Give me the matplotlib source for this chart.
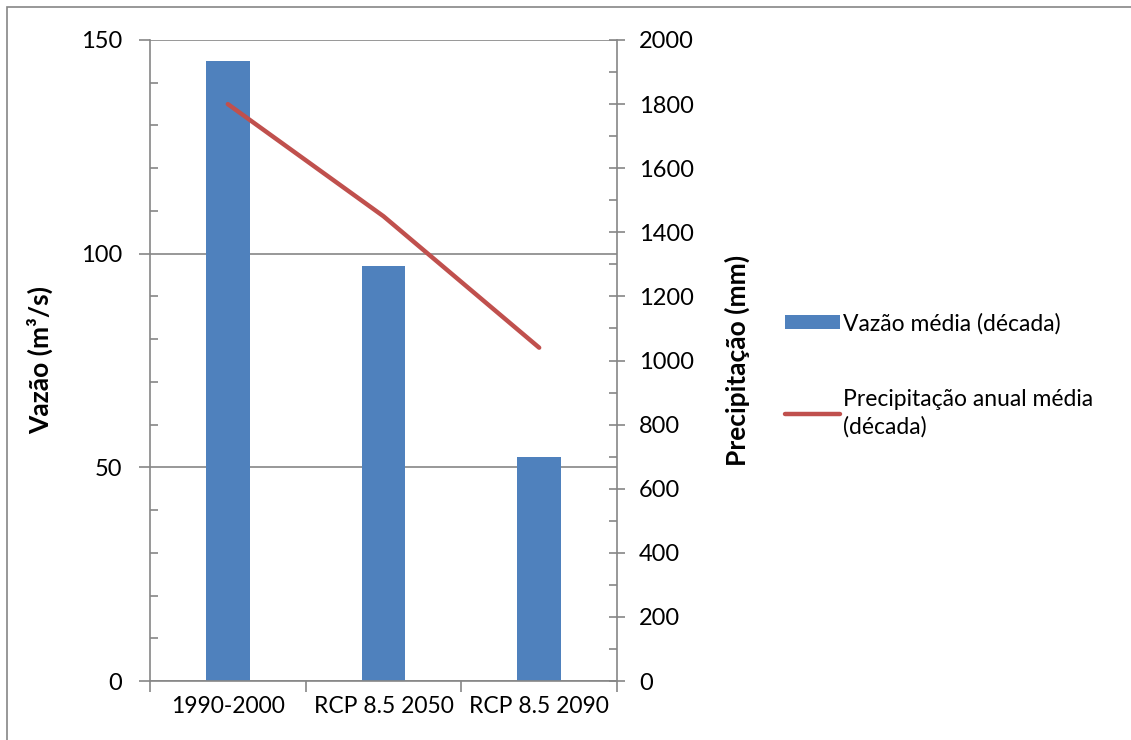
import matplotlib
matplotlib.use('Agg')
import matplotlib.pyplot as plt
from matplotlib.patches import Rectangle
from matplotlib.ticker import MultipleLocator

plt.rcParams['font.family'] = ['Lato', 'DejaVu Sans']

# dados por período
periodos = ['1990-2000', 'RCP 8.5 2050', 'RCP 8.5 2090']
vazao = [145, 97, 52.5]
precipitacao = [1800, 1450, 1040]

cor_barra = '#4F81BD'
cor_linha = '#C0504D'
cinza = '#868686'

fig = plt.figure(figsize=(11.31, 7.40), dpi=100)

# moldura do gráfico
fig.patches.append(Rectangle((7 / 1131, -0.1), 1.2, 1.1 - 7 / 740,
                             transform=fig.transFigure, fill=False,
                             edgecolor=cinza, linewidth=1.2))

ax = fig.add_axes([150 / 1131, 1 - 681 / 740, 467 / 1131, 641 / 740])
x = list(range(len(periodos)))
ax.bar(x, vazao, width=0.28, color=cor_barra, zorder=2,
       label='Vazão média (década)')
ax.set_xlim(-0.5, 2.5)
ax.set_ylim(0, 150)
ax.yaxis.set_major_locator(MultipleLocator(50))
ax.yaxis.set_minor_locator(MultipleLocator(10))
ax.grid(axis='y', which='major', color=cinza, linewidth=1.2, zorder=0)

# marcas do eixo x nas divisas das categorias, rótulos no centro
ax.set_xticks([-0.5, 0.5, 1.5, 2.5])
ax.set_xticklabels([])
ax.set_xticks(x, minor=True)
ax.set_xticklabels(periodos, minor=True)
ax.tick_params(axis='x', which='major', direction='out', length=8,
               color=cinza, width=1.2)
ax.tick_params(axis='x', which='minor', length=0, pad=11, labelsize=16.5)
ax.tick_params(axis='y', which='major', direction='out', length=8,
               color=cinza, width=1.2, labelsize=17, pad=12)
ax.tick_params(axis='y', which='minor', direction='in', length=6,
               color=cinza, width=1.2)

for lado in ['left', 'bottom', 'right']:
    ax.spines[lado].set_color(cinza)
    ax.spines[lado].set_linewidth(1.2)
ax.spines['top'].set_visible(False)
ax.set_ylabel('Vazão (m³/s)', fontsize=19, fontweight='bold', labelpad=20)

ax2 = ax.twinx()
ax2.plot(x, precipitacao, color=cor_linha, linewidth=3.2,
         solid_capstyle='round', label='Precipitação anual média\n(década)')
ax2.set_ylim(0, 2000)
ax2.yaxis.set_major_locator(MultipleLocator(200))
ax2.yaxis.set_minor_locator(MultipleLocator(100))
ax2.tick_params(axis='y', which='major', direction='inout', length=12,
                color=cinza, width=1.2, labelsize=17, pad=10)
ax2.tick_params(axis='y', which='minor', direction='in', length=6,
                color=cinza, width=1.2)
for lado in ['left', 'bottom', 'right', 'top']:
    ax2.spines[lado].set_visible(False)
ax2.set_ylabel('Precipitação (mm)', fontsize=19, fontweight='bold',
               labelpad=22)

h1, l1 = ax.get_legend_handles_labels()
h2, l2 = ax2.get_legend_handles_labels()
leg = fig.legend(h1 + h2, l1 + l2, loc='upper left',
                 bbox_to_anchor=(764 / 1131, 1 - 292 / 740), frameon=False,
                 fontsize=16.5, handlelength=2.4, handletextpad=0.15,
                 labelspacing=2.4, handleheight=0.6)
for t in leg.get_texts():
    t.set_linespacing(1.35)

fig.savefig('out.png', dpi=100)
